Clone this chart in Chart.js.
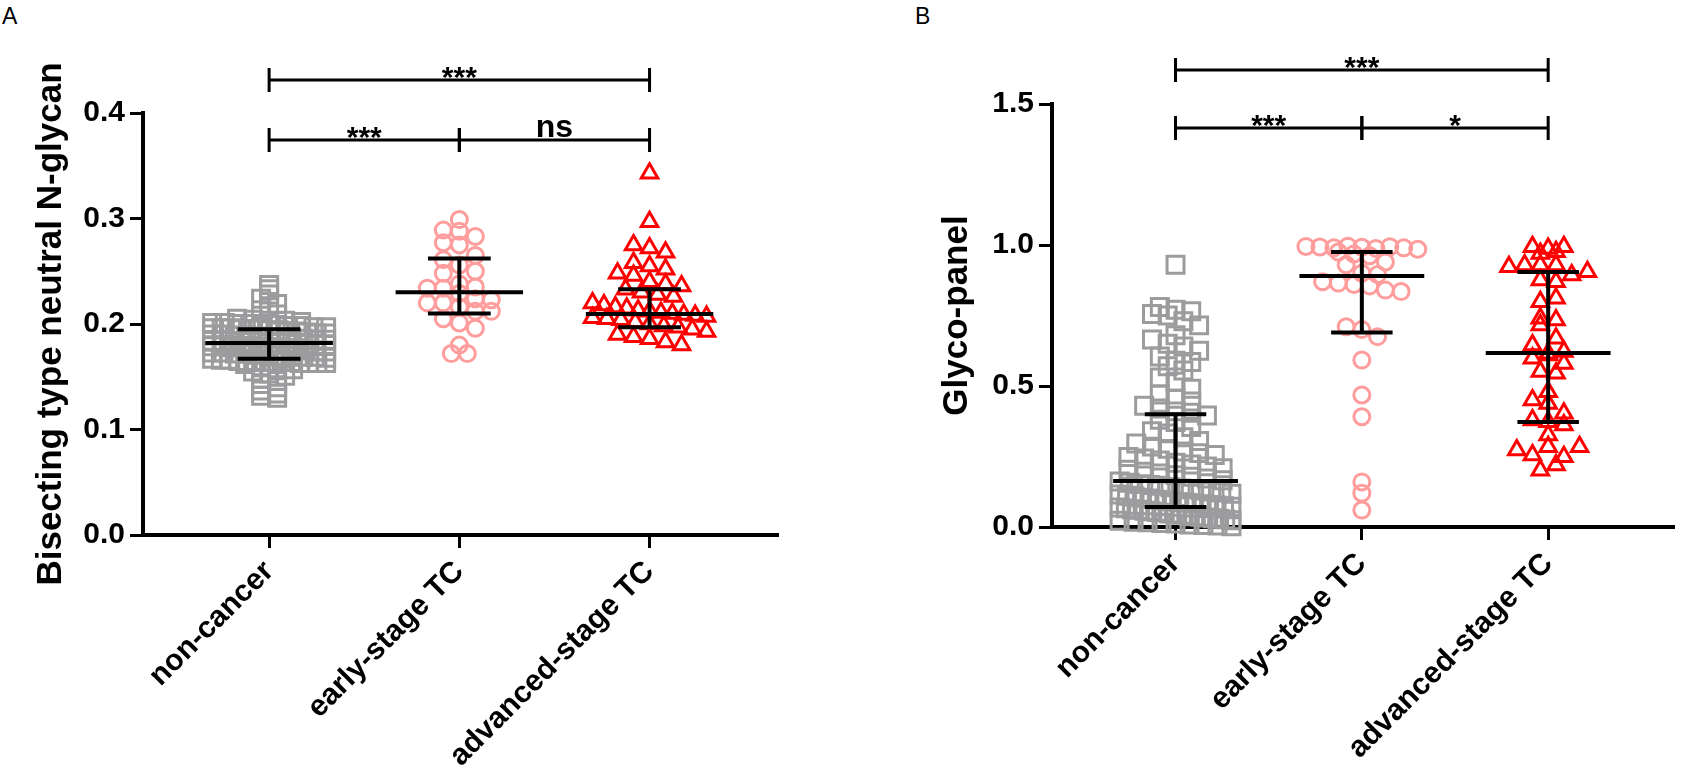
<!DOCTYPE html>
<html>
<head>
<meta charset="utf-8">
<script src="https://cdn.jsdelivr.net/npm/chart.js@4.4.0/dist/chart.umd.min.js"></script>
<style>
  body { margin: 0; background: #fff; width: 1688px; height: 782px; position: relative; overflow: hidden; }
  canvas { position: absolute; top: 0; }
  #chartA { left: 0; }
  #chartB { left: 844px; }
  .tag { position: absolute; top: 3px; font: 23px "Liberation Sans", Arial, sans-serif; color: #000; }
</style>
</head>
<body>
<div class="tag" style="left:2px">A</div>
<div class="tag" style="left:915px">B</div>
<canvas id="chartA" width="844" height="782"></canvas>
<canvas id="chartB" width="844" height="782"></canvas>
<script>
// groups on the x axis
const groups = ['non-cancer', 'early-stage TC', 'advanced-stage TC'];

// panel A : bisecting type neutral N-glycan
const nonCancerA = [
  0.237, 0.233, 0.228, 0.224, 0.219, 0.216, 0.213, 0.209, 0.205, 0.204,
  0.203, 0.203, 0.202, 0.201, 0.201, 0.200, 0.200, 0.199, 0.199, 0.198,
  0.198, 0.197, 0.197, 0.196, 0.196, 0.196, 0.195, 0.195,
  0.195, 0.194, 0.194, 0.193, 0.193, 0.192, 0.191, 0.191, 0.190, 0.190,
  0.189, 0.188, 0.188, 0.187, 0.187, 0.186, 0.186, 0.185, 0.185, 0.184,
  0.184, 0.184, 0.183, 0.183, 0.183, 0.182, 0.182, 0.182,
  0.181, 0.181, 0.180, 0.180, 0.179, 0.179, 0.178, 0.178, 0.177, 0.177,
  0.176, 0.176, 0.175, 0.175, 0.174, 0.174, 0.173, 0.173, 0.172, 0.172,
  0.171, 0.171, 0.170, 0.170, 0.169, 0.169, 0.168, 0.167,
  0.166, 0.166, 0.165, 0.165, 0.165, 0.164, 0.164, 0.164, 0.164, 0.163,
  0.163, 0.163, 0.163, 0.162, 0.160, 0.158, 0.157, 0.155, 0.153, 0.151,
  0.148, 0.146, 0.143, 0.140, 0.137, 0.134, 0.132, 0.130
];
const earlyA = [
  0.299, 0.289, 0.288, 0.283, 0.277, 0.275, 0.265, 0.261, 0.256, 0.250,
  0.248, 0.238, 0.235, 0.234, 0.234, 0.229, 0.224, 0.223, 0.220, 0.220,
  0.216, 0.212, 0.212, 0.205, 0.201, 0.196, 0.180, 0.172, 0.172
];
const advancedA = [
  0.343, 0.297, 0.275, 0.272, 0.268, 0.258, 0.255, 0.252, 0.248, 0.246,
  0.240, 0.238, 0.236, 0.233, 0.230, 0.228, 0.226, 0.220, 0.218, 0.216,
  0.215, 0.213, 0.212, 0.211, 0.210, 0.209, 0.208, 0.207, 0.206, 0.205,
  0.204, 0.202, 0.200, 0.198, 0.197, 0.195, 0.193, 0.190, 0.188, 0.186,
  0.183, 0.180
];
const medianA = [0.182, 0.230, 0.2095];
const upperA = [0.195, 0.262, 0.233];
const lowerA = [0.167, 0.210, 0.197];
const sigPairsA = [[0, 2], [0, 1], [1, 2]];
const sigLevelsA = [0.4313, 0.3744, 0.3744];
const sigLabelsA = ['***', '***', 'ns'];

// panel B : glyco-panel
const nonCancerB = [
  0.930, 0.780, 0.770, 0.765, 0.755, 0.750, 0.730, 0.715, 0.680, 0.665,
  0.650, 0.640, 0.625, 0.605, 0.590, 0.585, 0.570, 0.555, 0.530, 0.515,
  0.490, 0.470, 0.455, 0.445, 0.430, 0.420, 0.410, 0.405,
  0.395, 0.380, 0.372, 0.355, 0.340, 0.332, 0.318, 0.305, 0.296, 0.285,
  0.277, 0.268, 0.262, 0.255, 0.248, 0.243, 0.236, 0.228, 0.222, 0.215,
  0.208, 0.203, 0.196, 0.190, 0.184, 0.178, 0.172, 0.166,
  0.161, 0.157, 0.152, 0.149, 0.146, 0.141, 0.137, 0.134, 0.129, 0.126,
  0.122, 0.118, 0.115, 0.111, 0.108, 0.104, 0.101, 0.097, 0.094, 0.091,
  0.088, 0.086, 0.083, 0.081, 0.078, 0.076, 0.074, 0.072,
  0.069, 0.066, 0.063, 0.061, 0.058, 0.056, 0.053, 0.051, 0.048, 0.046,
  0.043, 0.041, 0.038, 0.036, 0.034, 0.031, 0.029, 0.027, 0.024, 0.022,
  0.019, 0.017, 0.014, 0.012, 0.009, 0.007, 0.005, 0.003
];
const earlyB = [
  0.995, 0.993, 0.990, 0.996, 0.992, 0.988, 0.994, 0.990, 0.985, 0.975,
  0.968, 0.962, 0.940, 0.930, 0.900, 0.895, 0.870, 0.865, 0.860, 0.855,
  0.840, 0.835, 0.710, 0.700, 0.675, 0.592, 0.468, 0.391, 0.160, 0.120,
  0.060
];
const advancedB = [
  0.923, 0.929, 0.970, 0.994, 0.988, 0.976, 0.994, 0.929, 0.929, 0.894,
  0.876, 0.870, 0.905, 0.799, 0.811, 0.740, 0.734, 0.716, 0.669, 0.645,
  0.598, 0.616, 0.622, 0.610, 0.580, 0.551, 0.545, 0.480, 0.450, 0.438,
  0.379, 0.403, 0.373, 0.362, 0.326, 0.273, 0.255, 0.285, 0.249, 0.285,
  0.201, 0.220
];
const medianB = [0.163, 0.890, 0.617];
const upperB = [0.400, 0.975, 0.904];
const lowerB = [0.071, 0.690, 0.372];
const sigPairsB = [[0, 2], [0, 1], [1, 2]];
const sigLevelsB = [1.6206, 1.4149, 1.4149];
const sigLabelsB = ['***', '***', '*'];

// ---- drawing ----
const FONT = '"Liberation Sans", Arial, sans-serif';
const X_MIN = -0.663, X_MAX = 2.67;
const looks = [
  { shape: 'rect', color: '#9c9c9e', r: 12 },
  { shape: 'circle', color: '#ff9c9c', r: 8 },
  { shape: 'triangle', color: '#ff0000', r: 9.5 }
];

// simple column scatter: values in the same row are spread out around the column centre
function swarm(values, centre, rowH, step, maxHalf) {
  const rows = {};
  values.forEach(v => {
    const r = Math.round(v / rowH);
    (rows[r] = rows[r] || []).push(v);
  });
  const pts = [];
  Object.values(rows).forEach(row => {
    const n = row.length;
    const s = n > 1 ? Math.min(step, 2 * maxHalf / (n - 1)) : 0;
    row.forEach((v, i) => pts.push({ x: centre + (i - (n - 1) / 2) * s, y: v }));
  });
  return pts;
}

const overlay = {
  id: 'overlay',
  afterDatasetsDraw(chart, args, o) {
    const { ctx } = chart;
    const x = chart.scales.x, y = chart.scales.y;
    ctx.save();
    ctx.strokeStyle = '#000';
    ctx.fillStyle = '#000';
    // median with interquartile range
    ctx.lineWidth = 4;
    o.median.forEach((m, i) => {
      const ym = y.getPixelForValue(m), yu = y.getPixelForValue(o.upper[i]), yl = y.getPixelForValue(o.lower[i]);
      const xc = x.getPixelForValue(i);
      ctx.beginPath();
      ctx.moveTo(x.getPixelForValue(i - 0.335), ym); ctx.lineTo(x.getPixelForValue(i + 0.335), ym);
      ctx.moveTo(x.getPixelForValue(i - 0.165), yu); ctx.lineTo(x.getPixelForValue(i + 0.165), yu);
      ctx.moveTo(x.getPixelForValue(i - 0.165), yl); ctx.lineTo(x.getPixelForValue(i + 0.165), yl);
      ctx.moveTo(xc, yu); ctx.lineTo(xc, yl);
      ctx.stroke();
    });
    // significance brackets
    ctx.lineWidth = 3;
    ctx.textAlign = 'center';
    ctx.textBaseline = 'alphabetic';
    o.pairs.forEach((p, k) => {
      const yy = y.getPixelForValue(o.levels[k]);
      const x1 = x.getPixelForValue(p[0]), x2 = x.getPixelForValue(p[1]);
      ctx.beginPath();
      ctx.moveTo(x1, yy); ctx.lineTo(x2, yy);
      ctx.moveTo(x1, yy - 12); ctx.lineTo(x1, yy + 12);
      ctx.moveTo(x2, yy - 12); ctx.lineTo(x2, yy + 12);
      ctx.stroke();
      const label = o.labels[k];
      const xm = (x1 + x2) / 2;
      if (label === 'ns') {
        ctx.font = 'bold 32px ' + FONT;
        ctx.fillText(label, xm, yy - 3);
      } else {
        ctx.font = 'bold 30px ' + FONT;
        ctx.fillText(label, xm, yy + 7);
      }
    });
    ctx.restore();
  }
};

function panel(id, p) {
  const W = 844, H = 782;
  const plotW = W - p.axisW - p.padRight;
  const plotH = H - p.padTop - p.axisH;
  const xPerPx = (X_MAX - X_MIN) / plotW;
  const yPerPx = p.yMax / plotH;
  const datasets = p.series.map((vals, i) => ({
    label: groups[i],
    data: swarm(vals, i, p.rowPx[i] * yPerPx, 16 * xPerPx, 57 * xPerPx),
    pointStyle: looks[i].shape,
    pointRadius: looks[i].r,
    pointBorderWidth: 3,
    pointBorderColor: looks[i].color,
    pointBackgroundColor: 'rgba(0,0,0,0)',
    showLine: false,
    clip: false
  }));
  return new Chart(document.getElementById(id), {
    type: 'scatter',
    data: { datasets },
    plugins: [overlay],
    options: {
      responsive: false,
      animation: false,
      events: [],
      layout: { padding: { left: 0, top: p.padTop, right: p.padRight, bottom: 0 } },
      plugins: {
        legend: { display: false },
        tooltip: { enabled: false },
        overlay: { median: p.median, upper: p.upper, lower: p.lower, pairs: p.pairs, levels: p.levels, labels: p.labels }
      },
      scales: {
        x: {
          type: 'linear',
          min: X_MIN,
          max: X_MAX,
          afterFit: s => { s.height = p.axisH; },
          afterBuildTicks: s => { s.ticks = groups.map((g, i) => ({ value: i })); },
          grid: { drawOnChartArea: false, color: '#000', lineWidth: 3, tickLength: 13 },
          border: { color: '#000', width: 4 },
          ticks: {
            callback: v => groups[v],
            minRotation: 45,
            maxRotation: 45,
            padding: 6,
            color: '#000',
            font: { family: FONT, size: 30, weight: 'bold' }
          }
        },
        y: {
          min: 0,
          max: p.yMax,
          afterFit: s => { s.width = p.axisW; },
          grid: { drawOnChartArea: false, color: '#000', lineWidth: 3, tickLength: 13 },
          border: { color: '#000', width: 4 },
          ticks: {
            stepSize: p.step,
            callback: v => v.toFixed(1),
            padding: 5,
            color: '#000',
            font: { family: FONT, size: 30, weight: 'bold' }
          },
          title: {
            display: true,
            text: p.title,
            color: '#000',
            padding: { top: p.titlePad, bottom: 0 },
            font: { family: FONT, size: 35, weight: 'bold' }
          }
        }
      }
    }
  });
}

panel('chartA', {
  series: [nonCancerA, earlyA, advancedA],
  median: medianA, upper: upperA, lower: lowerA,
  pairs: sigPairsA, levels: sigLevelsA, labels: sigLabelsA,
  yMax: 0.4, step: 0.1, rowPx: [6, 15, 15],
  title: 'Bisecting type neutral N-glycan',
  axisW: 143, axisH: 247, padTop: 113, padRight: 67, titlePad: 30
});

panel('chartB', {
  series: [nonCancerB, earlyB, advancedB],
  median: medianB, upper: upperB, lower: lowerB,
  pairs: sigPairsB, levels: sigLevelsB, labels: sigLabelsB,
  yMax: 1.5, step: 0.5, rowPx: [13, 15, 15],
  title: 'Glyco-panel',
  axisW: 208, axisH: 255, padTop: 104, padRight: 3, titlePad: 92
});
</script>
</body>
</html>
